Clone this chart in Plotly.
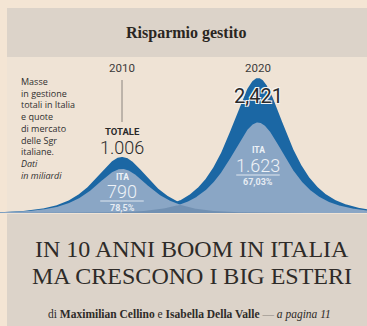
import numpy as np
import plotly.graph_objects as go

# ---- data ----
years = [2010, 2020]
totals = [1006, 2421]
ita = [790, 1623]
shares = ["78,5%", "67,03%"]
total_labels = ["1.006", "2,421"]
ita_labels = ["790", "1.623"]

W, H = 367, 326
BASE_PX = 213          # baseline pixel row
PX_PER_YEAR = 13.6
X0_PX = 122            # pixel column of first year
PX_PER_UNIT = 135 / 2421

def xv(px):
    return years[0] + (px - X0_PX) / PX_PER_YEAR

def yv(py):
    return (BASE_PX - py) / PX_PER_UNIT

def py_paper(py):
    return 1 - py / H

def px_paper(px):
    return px / W

xs = np.linspace(xv(-5), xv(W + 5), 800)
spread = [24.5 / PX_PER_YEAR, 25.5 / PX_PER_YEAR]

def bell(x, c, s, h):
    return h / np.cosh((x - c) / s)

DARK = "#1b67a4"
LIGHT = "#8aa6c5"
OVER = "#7190b2"

fig = go.Figure()
for yr, t, s in zip(years, totals, spread):
    fig.add_trace(go.Scatter(x=xs, y=bell(xs, yr, s, t), fill="tozeroy",
                             fillcolor=DARK, mode="lines", line=dict(width=0),
                             hoverinfo="skip", showlegend=False))
ita_curves = []
for yr, v, s in zip(years, ita, spread):
    yy = bell(xs, yr, s, v)
    ita_curves.append(yy)
    fig.add_trace(go.Scatter(x=xs, y=yy, fill="tozeroy",
                             fillcolor=LIGHT, mode="lines", line=dict(width=0),
                             hoverinfo="skip", showlegend=False))
fig.add_trace(go.Scatter(x=xs, y=np.minimum(ita_curves[0], ita_curves[1]),
                         fill="tozeroy", fillcolor=OVER, mode="lines",
                         line=dict(width=0), hoverinfo="skip", showlegend=False))

shapes = [
    # grey panel
    dict(type="rect", xref="paper", yref="paper", x0=px_paper(7), x1=1.01,
         y0=-0.01, y1=py_paper(8), fillcolor="#dcd3c9", line=dict(width=0), layer="below"),
    # chart area
    dict(type="rect", xref="paper", yref="paper", x0=px_paper(7), x1=1.01,
         y0=py_paper(BASE_PX + 1), y1=py_paper(57), fillcolor="#efe3d5", line=dict(width=0), layer="below"),
    # 2010 leader line
    dict(type="line", x0=years[0], x1=years[0], y0=yv(122), y1=yv(80),
         line=dict(color="#8a847e", width=1)),
]
# rule in ITA labels
for yr, py in zip(years, [201, 175]):
    shapes.append(dict(type="line", x0=yr - 1.6, x1=yr + 1.6, y0=yv(py), y1=yv(py),
                       line=dict(color="#dfe7f0", width=1)))

SANS = "Roboto"
SERIF = "Liberation Serif"
ann = []
def A(x, y, text, size, color="#2f2f2f", family=SANS, weight=None, xref="x", yref="y",
      xanchor="center", yanchor="middle", align="center", shadow=None):
    f = dict(size=size, color=color, family=family)
    if weight:
        f["weight"] = weight
    if shadow:
        f["shadow"] = shadow
    ann.append(dict(x=x, y=y, xref=xref, yref=yref, text=text, showarrow=False,
                    font=f, xanchor=xanchor, yanchor=yanchor, align=align))

A(px_paper(186), py_paper(33), "<b>Risparmio gestito</b>", 16, "#2a2622", SERIF,
  xref="paper", yref="paper")

note = ("Masse<br>in gestione<br>totali in Italia<br>e quote<br>di mercato<br>"
        "delle Sgr<br>italiane.<br><i>Dati<br>in miliardi</i>")
ann.append(dict(x=px_paper(19), y=py_paper(73), xref="paper", yref="paper", text=note,
                showarrow=False, xanchor="left", yanchor="top", align="left",
                font=dict(size=9, color="#2f2f2f", family="Open Sans")))

for yr, py in zip(years, [68, 68]):
    A(yr, yv(py), str(yr), 11.5, "#3a3a3a")

A(years[0], yv(131), "<b>TOTALE</b>", 9.5, "#2a2a2a")
A(years[0], yv(147), total_labels[0], 18, "#2a2a2a", weight=300)
A(years[1], yv(96), total_labels[1], 20, "#2a2a2a", weight=400,
  shadow="1px 1px 0 #f5f5f5, -1px -1px 0 #f5f5f5, 1px -1px 0 #f5f5f5, -1px 1px 0 #f5f5f5")

for yr, pys, lab, sh in zip(years, [(177, 191, 208), (150, 165, 182)], ita_labels, shares):
    A(yr, yv(pys[0]), "<b>ITA</b>", 8.5, "#eef2f7")
    A(yr, yv(pys[1]), lab, 18, "#eef2f7", weight=300)
    A(yr, yv(pys[2]), "<b>" + sh + "</b>", 9, "#e6ecf3")

A(px_paper(192), py_paper(249), "IN 10 ANNI BOOM IN ITALIA", 24, "#2e2b28", SERIF,
  xref="paper", yref="paper")
A(px_paper(192), py_paper(276), "MA CRESCONO I BIG ESTERI", 24, "#2e2b28", SERIF,
  xref="paper", yref="paper")
A(px_paper(189), py_paper(314),
  "di <b>Maximilian Cellino</b> e <b>Isabella Della Valle</b> <span style='color:#8a847e'>—</span> <i>a pagina 11</i>",
  11.5, "#2e2b28", SERIF, xref="paper", yref="paper")

fig.update_layout(
    width=W, height=H, margin=dict(l=0, r=0, t=0, b=0),
    paper_bgcolor="#f4e5d4", plot_bgcolor="rgba(0,0,0,0)",
    xaxis=dict(range=[xv(0), xv(W)], visible=False, fixedrange=True),
    yaxis=dict(range=[yv(H), yv(0)], visible=False, fixedrange=True),
    shapes=shapes, annotations=ann, showlegend=False,
)
fig.write_html("out.html", config={"displayModeBar": False})
